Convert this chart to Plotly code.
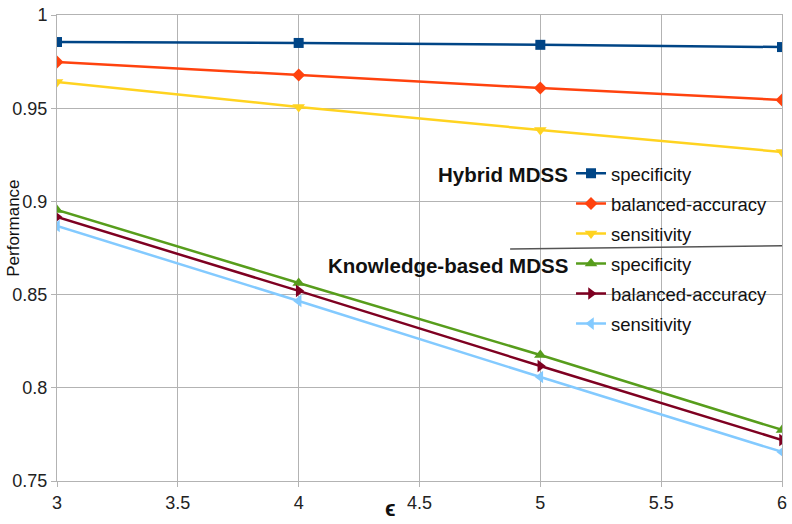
import plotly.graph_objects as go

# Privacy parameter epsilon
epsilon = [3, 4, 5, 6]

# Hybrid MDSS
hybrid_specificity = [0.9855, 0.9850, 0.9840, 0.9828]
hybrid_balanced_accuracy = [0.9748, 0.9678, 0.9608, 0.9544]
hybrid_sensitivity = [0.9640, 0.9507, 0.9383, 0.9265]

# Knowledge-based MDSS
kb_specificity = [0.8954, 0.8562, 0.8176, 0.7774]
kb_balanced_accuracy = [0.8916, 0.8520, 0.8117, 0.7720]
kb_sensitivity = [0.8868, 0.8466, 0.8058, 0.7656]

x_ticks = [3, 3.5, 4, 4.5, 5, 5.5, 6]
y_ticks = [0.75, 0.8, 0.85, 0.9, 0.95, 1]
y_tick_text = ["0.75", "0.8", "0.85", "0.9", "0.95", "1"]

series = [
    ("specificity", hybrid_specificity, "#004586", "square", 10),
    ("balanced-accuracy", hybrid_balanced_accuracy, "#ff420e", "diamond", 10),
    ("sensitivity", hybrid_sensitivity, "#ffd320", "triangle-down", 11),
    ("specificity", kb_specificity, "#579d1c", "triangle-up", 11),
    ("balanced-accuracy", kb_balanced_accuracy, "#7e0021", "triangle-right", 11),
    ("sensitivity", kb_sensitivity, "#83caff", "triangle-left", 11),
]

fig = go.Figure()
for i, (name, values, color, symbol, size) in enumerate(series):
    fig.add_trace(go.Scatter(
        x=epsilon, y=values, name=name, mode="lines+markers",
        legendgroup=f"g{i}",
        line=dict(color=color, width=2.5),
        marker=dict(symbol=symbol, size=size, color=color),
    ))

font_family = "Liberation Sans, Arial, sans-serif"
axis_common = dict(
    showgrid=True, gridcolor="#b3b3b3", gridwidth=1,
    showline=True, linecolor="#b3b3b3", linewidth=1, mirror=True,
    ticks="outside", ticklen=5, tickcolor="#b3b3b3",
    zeroline=False, automargin=False,
    tickfont=dict(family=font_family, size=18, color="#222222"),
)

fig.update_layout(
    width=792, height=524,
    margin=dict(l=57, r=10, t=15, b=43),
    paper_bgcolor="white", plot_bgcolor="white",
    font=dict(family=font_family, color="#111111"),
    xaxis=dict(range=[3, 6], tickvals=x_ticks, **axis_common),
    yaxis=dict(range=[0.75, 1], tickvals=y_ticks, ticktext=y_tick_text, **axis_common),
    legend=dict(
        x=0.709, y=0.70, xanchor="left", yanchor="top",
        bgcolor="rgba(0,0,0,0)", traceorder="grouped", tracegroupgap=3,
        font=dict(family=font_family, size=18.5, color="#111111"),
    ),
    showlegend=True,
)

# Axis titles
fig.add_annotation(text="<b>ϵ</b>", xref="paper", yref="paper",
                   x=(390 - 57) / 725, y=-0.06, xanchor="center", yanchor="middle",
                   showarrow=False, font=dict(family=font_family, size=22, color="#111111"))
fig.add_annotation(text="Performance", xref="paper", yref="paper", textangle=-90,
                   x=-0.061, y=(481 - 228) / 466, xanchor="center", yanchor="middle",
                   showarrow=False, font=dict(family=font_family, size=17, color="#111111"))

# Group headings beside the legend
fig.add_annotation(text="<b>Hybrid MDSS</b>", xref="paper", yref="paper",
                   x=0.7076, y=0.657, xanchor="right", yanchor="middle",
                   showarrow=False, font=dict(family=font_family, size=20.5, color="#111111"))
fig.add_annotation(text="<b>Knowledge-based MDSS</b>", xref="paper", yref="paper",
                   x=0.7076, y=0.4635, xanchor="right", yanchor="middle",
                   showarrow=False, font=dict(family=font_family, size=20.5, color="#111111"))

# Divider between the two legend groups
fig.add_shape(type="line", xref="paper", yref="paper",
              x0=0.625, y0=0.498, x1=1.0, y1=0.505,
              line=dict(color="#555555", width=1.5))

fig.write_html("out.html")
